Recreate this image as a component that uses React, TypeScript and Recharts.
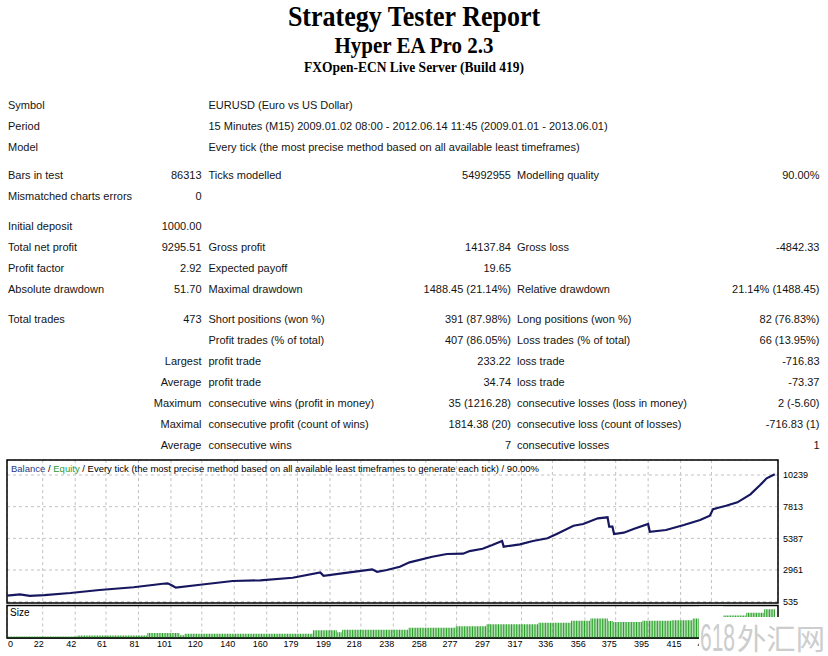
import React from "react";
import { ComposedChart, Line, Bar, XAxis, YAxis, CartesianGrid, ReferenceArea } from "recharts";

// ---------- data ----------
const titleLines = ["Strategy Tester Report", "Hyper EA Pro 2.3", "FXOpen-ECN Live Server (Build 419)"];

const reportRows: string[][] = [
  ["Symbol", "", "EURUSD (Euro vs US Dollar)", "", "", ""],
  ["Period", "", "15 Minutes (M15) 2009.01.02 08:00 - 2012.06.14 11:45 (2009.01.01 - 2013.06.01)", "", "", ""],
  ["Model", "", "Every tick (the most precise method based on all available least timeframes)", "", "", ""],
  ["Bars in test", "86313", "Ticks modelled", "54992955", "Modelling quality", "90.00%"],
  ["Mismatched charts errors", "0", "", "", "", ""],
  ["Initial deposit", "1000.00", "", "", "", ""],
  ["Total net profit", "9295.51", "Gross profit", "14137.84", "Gross loss", "-4842.33"],
  ["Profit factor", "2.92", "Expected payoff", "19.65", "", ""],
  ["Absolute drawdown", "51.70", "Maximal drawdown", "1488.45 (21.14%)", "Relative drawdown", "21.14% (1488.45)"],
  ["Total trades", "473", "Short positions (won %)", "391 (87.98%)", "Long positions (won %)", "82 (76.83%)"],
  ["", "", "Profit trades (% of total)", "407 (86.05%)", "Loss trades (% of total)", "66 (13.95%)"],
  ["", "Largest", "profit trade", "233.22", "loss trade", "-716.83"],
  ["", "Average", "profit trade", "34.74", "loss trade", "-73.37"],
  ["", "Maximum", "consecutive wins (profit in money)", "35 (1216.28)", "consecutive losses (loss in money)", "2 (-5.60)"],
  ["", "Maximal", "consecutive profit (count of wins)", "1814.38 (20)", "consecutive loss (count of losses)", "-716.83 (1)"],
  ["", "Average", "consecutive wins", "7", "consecutive losses", "1"],
];

const legendParts = ["Balance", " / ", "Equity", " / Every tick (the most precise method based on all available least timeframes to generate each tick) / 90.00%"];
const sizeLabel = "Size";
const watermarkDigits = "618";
const watermarkChars = "外汇网";

const balanceTrade = [0, 8, 14, 23, 39, 57, 78, 96, 99, 102, 104, 119, 139, 156, 176, 193, 195, 211, 225, 228, 234, 242,
  248, 262, 271, 281, 285, 293, 299, 305, 306, 316, 324, 333, 339, 349, 355, 364, 370, 371, 373, 374, 380, 386, 395, 396,
  406, 417, 427, 433, 435, 443, 450, 458, 464, 468, 473];
const balanceValue = [1000, 1090, 975, 1040, 1200, 1430, 1640, 1910, 1945, 1760, 1610, 1835, 2120, 2170, 2370, 2780, 2520, 2780, 3010, 2830, 2960, 3215,
  3550, 3980, 4190, 4210, 4415, 4590, 4875, 5185, 4750, 4930, 5185, 5390, 5740, 6350, 6485, 6920, 7000, 6280, 6280, 5720, 5820, 6100, 6485, 5895,
  6025, 6410, 6790, 7120, 7630, 7885, 8145, 8760, 9470, 9985, 10295.51];

const sizeFrom = [0, 44, 87, 107, 110, 189, 204, 207, 248, 277, 296, 328, 348, 360, 371, 374, 392, 410, 423, 441, 456, 467];
const sizeTo = [43, 86, 106, 109, 188, 203, 206, 247, 276, 295, 327, 347, 359, 370, 373, 391, 409, 422, 440, 455, 466, 473];
const sizeLot = [0.05, 0.09, 0.18, 0.1, 0.15, 0.27, 0.2, 0.29, 0.36, 0.42, 0.49, 0.54, 0.61, 0.69, 0.6, 0.57, 0.61, 0.63, 0.69, 0.8, 0.89, 1.02];

const xTicks = [0, 22, 42, 61, 81, 101, 120, 140, 160, 179, 199, 218, 238, 258, 277, 297, 317, 336, 356, 375, 395, 415, 434];
const yTicks = [535, 2961, 5387, 7813, 10239];

const X_DOMAIN: [number, number] = [0, 475];
const Y_DOMAIN: [number, number] = [435, 11389];
const SIZE_DOMAIN: [number, number] = [0, 1.15];

const balanceData = balanceTrade.map((t, i) => ({ trade: t, balance: balanceValue[i] }));
const sizeData: { trade: number; lot: number }[] = [];
sizeFrom.forEach((from, i) => {
  for (let t = from; t <= sizeTo[i]; t++) sizeData.push({ trade: t, lot: sizeLot[i] });
});

// ---------- layout / style ----------
const SANS = "'Liberation Sans', Arial, sans-serif";
const SERIF = "'Liberation Serif', 'Times New Roman', serif";
const TXT = "#141414";
const rowBaselines = [109, 130, 151, 179, 200, 230, 251, 272, 293, 323, 344, 365, 386, 407, 428, 449];
const colX = [8, 201.5, 208.5, 511, 517, 819.5];
const colAnchor: ("start" | "end")[] = ["start", "end", "start", "end", "start", "end"];
const titleBaselines = [26, 52.5, 72];
const titleSizes = [26, 21, 13.5];

const renderXTick = (props: any) => {
  const { x, y, payload } = props;
  const first = payload.value === 0;
  return (
    <text x={x + 1} y={y + 7} textAnchor={first ? "start" : "end"} fontSize={9} fontFamily={SANS} fill="#000">
      {payload.value}
    </text>
  );
};

export default function App() {
  return (
    <div style={{ position: "absolute", left: 0, top: 0, width: 828, height: 656, background: "#fff", overflow: "hidden" }}>
      {/* Balance chart */}
      <div style={{ position: "absolute", left: 0, top: 455 }}>
        <ComposedChart width={828} height={158} data={balanceData} margin={{ top: 5, right: 5, bottom: 10, left: 7 }}>
          <CartesianGrid stroke="#c2c2c2" strokeDasharray="3 3" />
          <XAxis type="number" dataKey="trade" domain={X_DOMAIN} ticks={xTicks} hide allowDataOverflow />
          <YAxis
            orientation="right"
            domain={Y_DOMAIN}
            ticks={yTicks}
            interval={0}
            width={45}
            axisLine={false}
            tickLine={false}
            tickSize={0}
            tickMargin={5}
            allowDataOverflow
            tick={{ fontSize: 9, fill: "#000", fontFamily: SANS }}
          />
          <ReferenceArea x1={X_DOMAIN[0]} x2={X_DOMAIN[1]} y1={Y_DOMAIN[0]} y2={Y_DOMAIN[1]} fill="none" fillOpacity={0} stroke="#000" strokeWidth={1.5} />
          <Line type="linear" dataKey="balance" stroke="#17175f" strokeWidth={2.2} dot={false} isAnimationActive={false} />
        </ComposedChart>
      </div>

      {/* Size chart */}
      <div style={{ position: "absolute", left: 0, top: 603 }}>
        <ComposedChart width={828} height={53} data={sizeData} margin={{ top: 2.5, right: 50, bottom: 0, left: 7 }}>
          <CartesianGrid horizontal={false} stroke="#c2c2c2" strokeDasharray="3 3" />
          <XAxis
            type="number"
            dataKey="trade"
            domain={X_DOMAIN}
            ticks={xTicks}
            interval={0}
            height={18}
            axisLine={{ stroke: "#000" }}
            tickLine={false}
            tickSize={0}
            tickMargin={2}
            tick={renderXTick}
            allowDataOverflow
          />
          <YAxis hide domain={SIZE_DOMAIN} allowDataOverflow />
          <Bar dataKey="lot" fill="#27a027" barSize={1} isAnimationActive={false} />
          <ReferenceArea x1={X_DOMAIN[0]} x2={X_DOMAIN[1]} y1={SIZE_DOMAIN[0]} y2={SIZE_DOMAIN[1]} fill="none" fillOpacity={0} stroke="#000" strokeWidth={1.5} />
        </ComposedChart>
      </div>

      {/* Text overlay */}
      <svg width={828} height={656} style={{ position: "absolute", left: 0, top: 0, pointerEvents: "none" }}>
        {titleLines.map((t, i) => (
          <text
            key={t}
            transform={`translate(414 ${titleBaselines[i]}) scale(1 1.1)`}
            x={0}
            y={0}
            textAnchor="middle"
            fontFamily={SERIF}
            fontWeight="bold"
            fontSize={titleSizes[i]}
            fill="#000"
          >
            {t}
          </text>
        ))}

        {reportRows.map((row, r) =>
          row.map((cell, c) =>
            cell ? (
              <text key={`${r}-${c}`} x={colX[c]} y={rowBaselines[r]} textAnchor={colAnchor[c]} fontFamily={SANS} fontSize={11} fill={TXT}>
                {cell}
              </text>
            ) : null
          )
        )}

        <text x={11} y={471.5} fontFamily={SANS} fontSize={9.5} fill="#000">
          <tspan fill="#1f3a86">{legendParts[0]}</tspan>
          <tspan>{legendParts[1]}</tspan>
          <tspan fill="#2a9a3a">{legendParts[2]}</tspan>
          <tspan>{legendParts[3]}</tspan>
        </text>

        <text x={10} y={616} fontFamily={SANS} fontSize={10} fill="#000">{sizeLabel}</text>

        <rect x={699} y={606.5} width={24} height={11} fill="#fff" />
        <rect x={699} y={617} width={129} height={39} fill="#fff" />
        <text x={700} y={651} fontFamily={SANS} fontSize={38} textLength={35} lengthAdjust="spacingAndGlyphs" fill="#cdcdcd">{watermarkDigits}</text>
        <text x={737} y={650} fontFamily="'Noto Sans CJK SC', sans-serif" fontSize={29} textLength={88} lengthAdjust="spacingAndGlyphs" fill="#cdcdcd">{watermarkChars}</text>
      </svg>
    </div>
  );
}
